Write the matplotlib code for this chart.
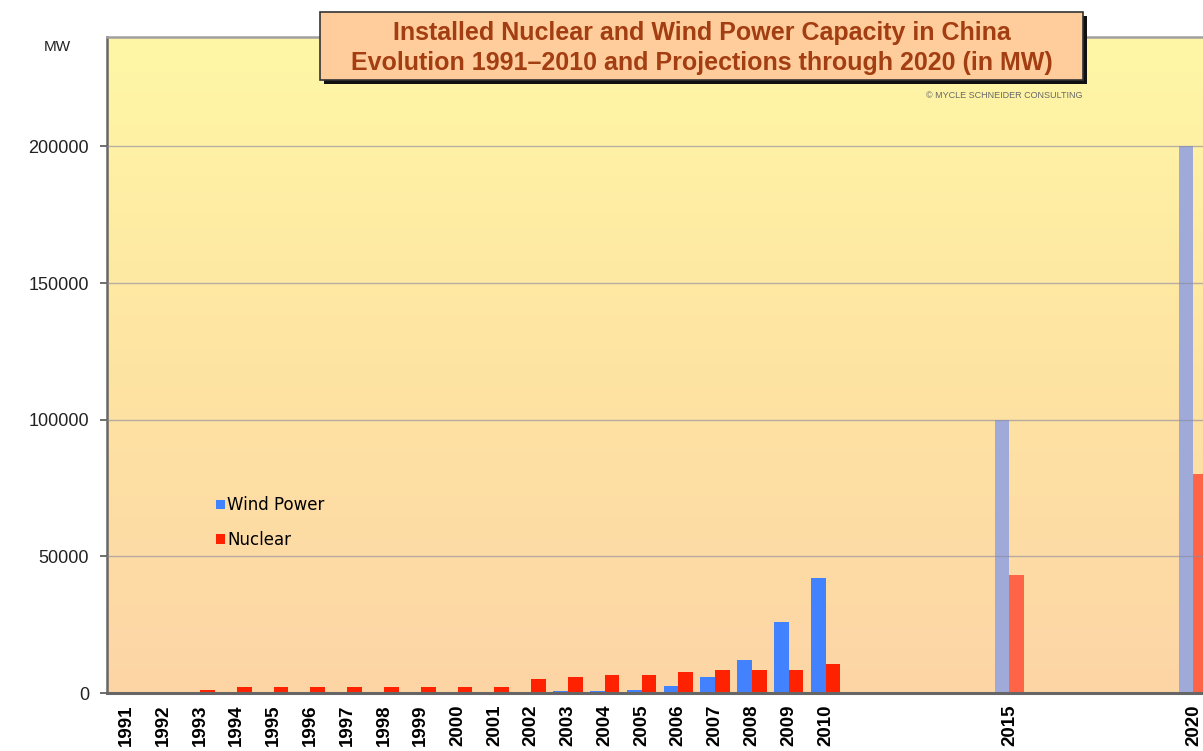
import matplotlib.pyplot as plt
import numpy as np
from matplotlib.patches import Patch, Rectangle
from matplotlib.colors import LinearSegmentedColormap

years = [1991, 1992, 1993, 1994, 1995, 1996, 1997, 1998, 1999, 2000,
         2001, 2002, 2003, 2004, 2005, 2006, 2007, 2008, 2009, 2010,
         2015, 2020]
wind_mw = [4, 10, 15, 26, 38, 57, 170, 224, 268, 346,
           400, 468, 568, 764, 1260, 2600, 5900, 12200, 26000, 42100,
           100000, 200000]
nuclear_mw = [300, 300, 1200, 2100, 2100, 2100, 2100, 2100, 2100, 2100,
              2100, 5200, 5900, 6600, 6600, 7700, 8500, 8500, 8500, 10600,
              43000, 80000]
projection_years = [2015, 2020]
dark_wind_years = [2000, 2001]

W, H = 1203, 751
fig = plt.figure(figsize=(W / 100, H / 100), dpi=100)
ax = fig.add_axes([107 / W, 1 - 693 / H, 1 - 107 / W, (693 - 37) / H])

# background gradient yellow (top) -> peach (bottom)
cmap = LinearSegmentedColormap.from_list("bg", ["#FDD5A6", "#FEE4A2", "#FFF7A6"])
grad = np.linspace(0, 1, 256).reshape(-1, 1)
ax.imshow(grad, extent=[1990.47, 2020.26, 0, 240000], origin="lower",
          aspect="auto", cmap=cmap, zorder=0)

wind_colors = []
nuc_colors = []
for y in years:
    if y in projection_years:
        wind_colors.append("#A0AAD8")
        nuc_colors.append("#FF6446")
    elif y in dark_wind_years:
        wind_colors.append("#22222E")
        nuc_colors.append("#FF2200")
    else:
        wind_colors.append("#4282FF")
        nuc_colors.append("#FF2200")

bw = 0.4
ax.bar(years, wind_mw, width=-bw, align="edge", color=wind_colors, zorder=2)
ax.bar(years, nuclear_mw, width=bw, align="edge", color=nuc_colors, zorder=2)

ax.set_xlim(1990.47, 2020.26)
ax.set_ylim(0, 240000)
ax.set_yticks([0, 50000, 100000, 150000, 200000])
ax.set_yticklabels(["0", "50000", "100000", "150000", "200000"],
                   fontsize=13, family="Liberation Sans", color="#222222")
ax.set_xticks(years)
ax.set_xticklabels([str(y) for y in years], rotation=90, fontsize=13.5,
                   fontweight="bold", family="Liberation Sans")
ax.tick_params(axis="x", length=0, pad=8)
ax.tick_params(axis="y", length=5, width=1.2, color="#555555", pad=8)

for v in [50000, 100000, 150000, 200000]:
    ax.axhline(v, color="#8888A0", linewidth=1.0, alpha=0.6, zorder=3)

ax.spines["right"].set_visible(False)
ax.spines["left"].set_color("#666666")
ax.spines["left"].set_linewidth(1.8)
ax.spines["bottom"].set_color("#666666")
ax.spines["bottom"].set_linewidth(2.2)
ax.spines["top"].set_color("#A0A0A0")
ax.spines["top"].set_linewidth(1.8)

fig.text(57 / W, 1 - 47 / H, "MW", fontsize=11, family="Liberation Sans",
         ha="center", va="center", color="#222222")

# title box with drop shadow
bx, by, bwid, bht = 320, 12, 763, 68
fig.add_artist(Rectangle(((bx + 4) / W, 1 - (by + bht + 4) / H), bwid / W, bht / H,
                         transform=fig.transFigure, facecolor="#111111",
                         edgecolor="none", zorder=4))
fig.add_artist(Rectangle((bx / W, 1 - (by + bht) / H), bwid / W, bht / H,
                         transform=fig.transFigure, facecolor="#FFCC9C",
                         edgecolor="#333333", linewidth=1.2, zorder=5))
fig.text((bx + bwid / 2) / W, 1 - 33 / H,
         "Installed Nuclear and Wind Power Capacity in China",
         fontsize=18, fontweight="bold", family="Liberation Sans",
         color="#A23E12", ha="center", va="center", zorder=6)
fig.text((bx + bwid / 2) / W, 1 - 63 / H,
         "Evolution 1991\u20132010 and Projections through 2020 (in MW)",
         fontsize=18, fontweight="bold", family="Liberation Sans",
         color="#A23E12", ha="center", va="center", zorder=6)
fig.text(1083 / W, 1 - 95 / H, "\u00a9 MYCLE SCHNEIDER CONSULTING",
         fontsize=6.5, family="Liberation Sans", color="#666666",
         ha="right", va="center")

handles = [Patch(facecolor="#4282FF", label="Wind Power"),
           Patch(facecolor="#FF2200", label="Nuclear")]
ax.legend(handles=handles, loc="upper left", frameon=False,
          bbox_to_anchor=(208 / W, 1 - 488 / H), bbox_transform=fig.transFigure,
          prop={"family": "DejaVu Sans", "size": 12},
          handlelength=0.5, handleheight=0.5, handletextpad=0.15,
          labelspacing=1.0, borderpad=0)

fig.savefig("out.png", dpi=100)
